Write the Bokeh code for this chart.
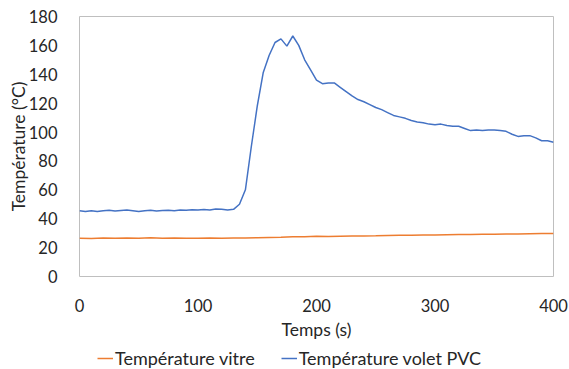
from bokeh.plotting import figure
from bokeh.layouts import column
from bokeh.models import FixedTicker, Range1d, Legend, LegendItem
from bokeh.embed import file_html
from bokeh.resources import INLINE

# Time (s) for the PVC shutter series (every 5 s)
t_volet = list(range(0, 405, 5))
temp_volet = [
    45.5, 45.0, 45.5, 45.0, 45.5, 45.8, 45.3, 45.7, 46.0, 45.5,
    45.0, 45.6, 45.8, 45.4, 45.7, 45.9, 45.6, 46.0, 45.8, 46.2,
    46.0, 46.3, 46.1, 46.8, 46.5, 46.0, 46.5, 50.0, 60.0, 90.0,
    118.0, 141.0, 153.0, 162.0, 164.5, 159.5, 166.5, 160.0, 150.0, 143.0,
    136.0, 133.5, 134.0, 134.0, 131.0, 128.0, 125.0, 122.5, 121.0, 119.0,
    117.0, 115.5, 113.5, 111.5, 110.5, 109.5, 108.0, 107.0, 106.5, 105.5,
    105.0, 105.5, 104.5, 104.0, 104.0, 102.5, 101.0, 101.5, 101.0, 101.5,
    101.5, 101.0, 100.5, 98.5, 97.0, 97.5, 97.5, 96.0, 94.0, 94.0,
    93.0,
]

# Time (s) for the glass series (every 10 s)
t_vitre = list(range(0, 410, 10))
temp_vitre = [
    26.5, 26.3, 26.6, 26.4, 26.7, 26.5, 26.8, 26.4, 26.6, 26.5,
    26.4, 26.6, 26.5, 26.6, 26.7, 26.8, 27.0, 27.2, 27.5, 27.6,
    27.8, 27.7, 27.9, 28.0, 28.1, 28.2, 28.4, 28.5, 28.6, 28.8,
    28.7, 28.9, 29.0, 29.1, 29.2, 29.2, 29.4, 29.5, 29.6, 29.7,
    29.8,
]

x_ticks = [0, 100, 200, 300, 400]
y_ticks = [0, 20, 40, 60, 80, 100, 120, 140, 160, 180]
series_labels = ["Température vitre", "Température volet PVC"]
series_colors = ["#ED7D31", "#4472C4"]

FONT = "Lato"
TXT = "#262626"

p = figure(frame_width=474, frame_height=260, output_backend="svg", toolbar_location=None,
           x_range=Range1d(0, 400), y_range=Range1d(0, 180),
           min_border_left=79, min_border_right=16, min_border_top=16,
           min_border_bottom=64)
p.background_fill_color = "white"
p.border_fill_color = "white"
p.outline_line_color = "#bfbfbf"
p.outline_line_width = 1
p.xgrid.visible = False
p.ygrid.visible = False

r_vitre = p.line(t_vitre, temp_vitre, line_color=series_colors[0], line_width=1.5)
r_volet = p.line(t_volet, temp_volet, line_color=series_colors[1], line_width=1.5)

for ax in (p.xaxis[0], p.yaxis[0]):
    ax.axis_line_color = None
    ax.major_tick_line_color = None
    ax.minor_tick_line_color = None
    ax.major_label_text_font = FONT
    ax.major_label_text_font_size = "16.5px"
    ax.major_label_text_color = TXT
    ax.axis_label_text_font = FONT
    ax.axis_label_text_font_size = "17.5px"
    ax.axis_label_text_font_style = "normal"
    ax.axis_label_text_color = TXT

p.xaxis[0].ticker = FixedTicker(ticks=x_ticks)
p.yaxis[0].ticker = FixedTicker(ticks=y_ticks)
p.xaxis[0].axis_label = "Temps (s)"
p.yaxis[0].axis_label = "Température (°C)"
p.xaxis[0].major_label_standoff = 16
p.yaxis[0].major_label_standoff = 16
p.xaxis[0].axis_label_standoff = 4
p.yaxis[0].axis_label_standoff = -3

# Legend strip below the chart (its frame is aligned with the chart frame)
lg = figure(width=569, height=29, output_backend="svg", toolbar_location=None,
            x_range=Range1d(0, 1), y_range=Range1d(0, 1),
            min_border_left=79, min_border_right=16, min_border_top=0, min_border_bottom=0)
lg.axis.visible = False
lg.grid.visible = False
lg.outline_line_color = None
lg.background_fill_color = "white"
lg.border_fill_color = "white"
# single-point proxy lines: they draw nothing themselves, only feed the legend swatches
dummy = [lg.line([0], [0], line_color=c, line_width=1.5) for c in series_colors]

legend = Legend(items=[LegendItem(label=lab, renderers=[r]) for lab, r in zip(series_labels, dummy)],
                orientation="horizontal", location=(18, 2),
                label_text_font=FONT, label_text_font_size="18px",
                label_text_color=TXT, border_line_color=None,
                background_fill_alpha=0, glyph_width=16, label_standoff=2,
                spacing=26, padding=0, margin=0)
lg.add_layout(legend, "center")

layout = column(p, lg, spacing=0)
open("out.html", "w").write(file_html(layout, INLINE))
